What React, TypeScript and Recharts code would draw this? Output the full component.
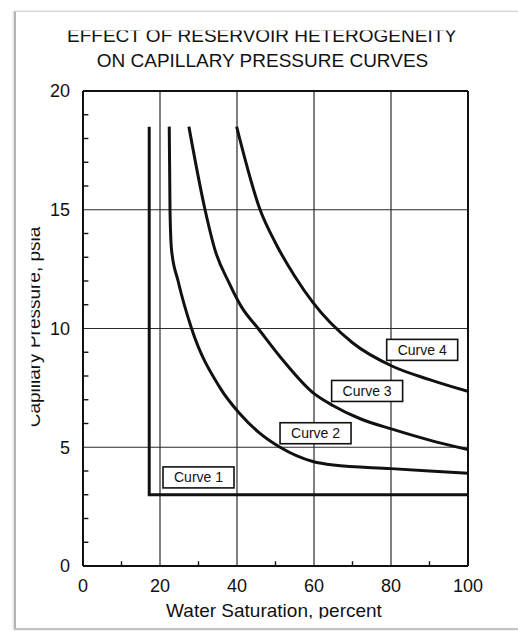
import {
  LineChart,
  Line,
  XAxis,
  YAxis,
  CartesianGrid,
  ReferenceLine,
  ReferenceDot,
} from "recharts";

// lecturas aproximadas de la figura escaneada
const curve1Sw = [17.2, 17.2, 100];
const curve1Pc = [18.5, 3, 3];
const curve2Sw = [22.4, 22.6, 23.0, 24.7, 28.2, 35.6, 40.8, 45.5, 51.2, 59.7, 65, 80, 100];
const curve2Pc = [18.5, 15, 13.3, 12, 10, 7.5, 6.4, 5.65, 5.0, 4.4, 4.25, 4.1, 3.9];
const curve3Sw = [27.5, 31.7, 34.3, 38, 41.2, 45.5, 52, 59.7, 65, 72, 80.5, 90, 100];
const curve3Pc = [18.5, 15, 13.3, 11.9, 10.9, 10.0, 8.65, 7.3, 6.75, 6.2, 5.75, 5.3, 4.9];
const curve4Sw = [39.9, 46, 50, 55, 59.7, 70, 80.5, 90, 100];
const curve4Pc = [18.5, 15, 13.6, 12.2, 11.1, 9.4, 8.4, 7.85, 7.35];

const labelNames = ["Curve 1", "Curve 2", "Curve 3", "Curve 4"];
const labelSw = [30, 60.4, 73.8, 88.1];
const labelPc = [3.73, 5.59, 7.37, 9.1];

const xTicks = [0, 20, 40, 60, 80, 100];
const yTicks = [0, 5, 10, 15, 20];
const minorXTicks = [10, 30, 50, 70, 90];
const minorYTicks = [1, 2, 3, 4, 6, 7, 8, 9, 11, 12, 13, 14, 16, 17, 18, 19];

const FONT = "'Liberation Sans', Arial, sans-serif";
const INK = "#111";

const zip = (sw: number[], pc: number[]) => sw.map((s, i) => ({ sw: s, pc: pc[i] }));

const curves = [
  { data: zip(curve1Sw, curve1Pc), type: "linear" as const },
  { data: zip(curve2Sw, curve2Pc), type: "monotone" as const },
  { data: zip(curve3Sw, curve3Pc), type: "monotone" as const },
  { data: zip(curve4Sw, curve4Pc), type: "monotone" as const },
];

function LabelBox(props: any) {
  const { cx, cy, text } = props;
  return (
    <g>
      <rect x={cx - 35.5} y={cy - 10.5} width={71} height={21} fill="#fff" stroke={INK} strokeWidth={1.6} />
      <text x={cx} y={cy + 5} textAnchor="middle" fontSize={14} fontFamily={FONT} fill={INK}>
        {text}
      </text>
    </g>
  );
}

export default function App() {
  return (
    <div style={{ position: "absolute", left: 0, top: 0, width: 518, height: 631, background: "#fff" }}>
      <div
        style={{
          position: "absolute",
          left: 14,
          top: 11,
          width: 502,
          height: 616,
          borderTop: "1px solid #d4d4d4",
          borderRight: "1px solid #e0e0e0",
          borderBottom: "2px solid #c4c4c4",
          borderLeft: "2px solid #b4b4b4",
          boxShadow: "-1px 0 2px rgba(0,0,0,0.15)",
        }}
      />
      <div style={{ position: "absolute", left: 0, top: 0 }}>
        <LineChart width={518} height={631} margin={{ top: 91, right: 50, bottom: 35, left: 33 }}>
          <CartesianGrid stroke="#2a2a2a" strokeWidth={1.2} />
          <XAxis
            type="number"
            dataKey="sw"
            domain={[0, 100]}
            ticks={xTicks}
            height={30}
            tickSize={0}
            tickMargin={13}
            axisLine={{ stroke: INK, strokeWidth: 2 }}
            tick={{ fill: INK, fontSize: 18, fontFamily: FONT }}
            allowDataOverflow
          />
          <YAxis
            type="number"
            dataKey="pc"
            domain={[0, 20]}
            ticks={yTicks}
            width={50}
            tickSize={0}
            tickMargin={13}
            axisLine={{ stroke: INK, strokeWidth: 2 }}
            tick={{ fill: INK, fontSize: 18, fontFamily: FONT }}
            allowDataOverflow
          />
          <ReferenceLine x={100} stroke={INK} strokeWidth={2} />
          <ReferenceLine y={20} stroke={INK} strokeWidth={2} />
          {minorXTicks.map((t) => (
            <ReferenceLine key={"mx" + t} segment={[{ x: t, y: 0 }, { x: t, y: 0.2 }]} stroke={INK} strokeWidth={1.4} />
          ))}
          {minorYTicks.map((t) => (
            <ReferenceLine key={"my" + t} segment={[{ x: 0, y: t }, { x: 1.4, y: t }]} stroke={INK} strokeWidth={1.4} />
          ))}
          {curves.map((c, i) => (
            <Line
              key={i}
              data={c.data}
              dataKey="pc"
              type={c.type}
              stroke={INK}
              strokeWidth={3}
              dot={false}
              activeDot={false}
              isAnimationActive={false}
            />
          ))}
          {labelNames.map((name, i) => (
            <ReferenceDot
              key={name}
              x={labelSw[i]}
              y={labelPc[i]}
              shape={(p: any) => <LabelBox {...p} text={name} />}
            />
          ))}
        </LineChart>
      </div>
      <svg width={518} height={631} style={{ position: "absolute", left: 0, top: 0, pointerEvents: "none" }}>
        <defs>
          <clipPath id="titleClip">
            <rect x={0} y={30.5} width={518} height={100} />
          </clipPath>
          <clipPath id="yLabClip">
            <rect x={31.5} y={0} width={40} height={631} />
          </clipPath>
          <clipPath id="xLabClip">
            <rect x={0} y={580} width={518} height={38.5} />
          </clipPath>
        </defs>
        <g clipPath="url(#titleClip)">
          <text x={262} y={42} textAnchor="middle" fontSize={19} fontFamily={FONT} fill={INK}>
            EFFECT OF RESERVOIR HETEROGENEITY
          </text>
        </g>
        <text x={262.5} y={66.5} textAnchor="middle" fontSize={19} fontFamily={FONT} fill={INK}>
          ON CAPILLARY PRESSURE CURVES
        </text>
        <g clipPath="url(#yLabClip)">
          <text
            x={40}
            y={327}
            transform="rotate(-90 40 327)"
            textAnchor="middle"
            fontSize={19}
            fontFamily={FONT}
            fill={INK}
          >
            Capillary Pressure, psia
          </text>
        </g>
        <g clipPath="url(#xLabClip)">
          <text x={274} y={617} textAnchor="middle" fontSize={19} fontFamily={FONT} fill={INK}>
            Water Saturation, percent
          </text>
        </g>
      </svg>
    </div>
  );
}
